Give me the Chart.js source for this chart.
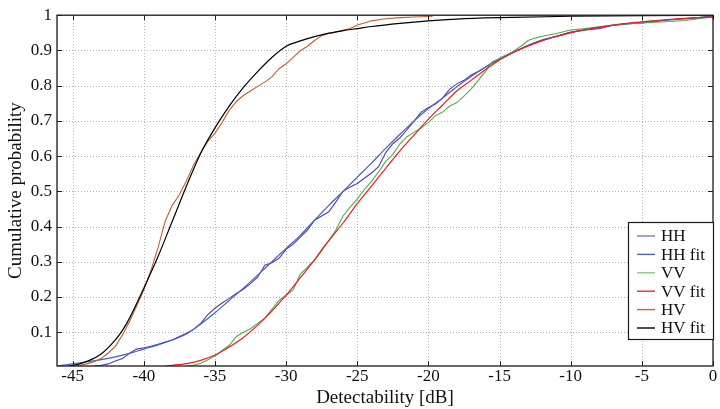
<!DOCTYPE html>
<html>
<head>
<meta charset="utf-8">
<script src="https://cdn.jsdelivr.net/npm/chart.js@4.4.1/dist/chart.umd.min.js"></script>
<style>
html,body{margin:0;padding:0;background:#fff;}
#wrap{width:720px;height:409px;}
</style>
</head>
<body>
<div id="wrap"><canvas id="c" width="720" height="409"></canvas></div>
<script>
// ---- Data ----
const xTicks = [-45, -40, -35, -30, -25, -20, -15, -10, -5, 0];
const yTicks = [0.1, 0.2, 0.3, 0.4, 0.5, 0.6, 0.7, 0.8, 0.9, 1];

const seriesNames = ['HH', 'HH fit', 'VV', 'VV fit', 'HV', 'HV fit'];

// HH empirical
const hhX = [-43.5,-43,-42.5,-42,-41.5,-41,-40.5,-40,-39.5,-39,-38.5,-38,-37.5,-37,-36.5,-36,-35.5,-35,-34.5,-34,-33.5,-33,-32.5,-32,-31.5,-31,-30.5,-30,-29.5,-29,-28.5,-28,-27.5,-27,-26.5,-26,-25.5,-25,-24.5,-24,-23.5,-23,-22.5,-22,-21.5,-21,-20.5,-20,-19.5,-19,-18.5,-18,-17.5,-17,-16.5,-16,-15.5,-15,-14,-13,-12,-11,-10,-9,-8,-7,-6,-5,-4,-3,-2,-1,0];
const hhY = [0.004,0.006,0.01,0.018,0.025,0.04,0.052,0.056,0.06,0.066,0.072,0.078,0.088,0.097,0.108,0.125,0.15,0.168,0.183,0.196,0.21,0.222,0.238,0.256,0.29,0.297,0.31,0.335,0.35,0.37,0.39,0.418,0.43,0.442,0.47,0.5,0.512,0.522,0.537,0.552,0.57,0.61,0.635,0.652,0.675,0.7,0.725,0.738,0.748,0.765,0.79,0.805,0.815,0.83,0.84,0.852,0.866,0.875,0.895,0.915,0.93,0.94,0.952,0.958,0.962,0.972,0.975,0.978,0.982,0.988,0.99,0.993,0.998];

// HH fit
const hhFitX = [-46.1,-45,-44,-43,-42,-41,-40,-39,-38,-37,-36,-35,-34,-33,-32,-31,-30,-29,-28,-27,-26,-25,-24,-23,-22,-21,-20,-19,-18,-17,-16,-15,-14,-13,-12,-11,-10,-9,-8,-7,-6,-5,-4,-3,-2,-1,0];
const hhFitY = [0.004,0.01,0.016,0.022,0.03,0.04,0.052,0.064,0.078,0.095,0.123,0.155,0.19,0.225,0.262,0.3,0.338,0.375,0.418,0.46,0.5,0.54,0.58,0.622,0.662,0.7,0.735,0.765,0.797,0.826,0.852,0.875,0.896,0.913,0.928,0.94,0.95,0.958,0.965,0.971,0.976,0.98,0.984,0.987,0.99,0.993,0.995];

// VV empirical
const vvX = [-37,-36.5,-36,-35.5,-35,-34.5,-34,-33.5,-33,-32.5,-32,-31.5,-31,-30.5,-30,-29.5,-29,-28.5,-28,-27.5,-27,-26.5,-26,-25.5,-25,-24.5,-24,-23.5,-23,-22.5,-22,-21.5,-21,-20.5,-20,-19.5,-19,-18.5,-18,-17.5,-17,-16.5,-16,-15.5,-15,-14.5,-14,-13.5,-13,-12.5,-12,-11,-10,-9,-8,-7,-6,-5,-4,-3,-2,-1,0];
const vvY = [0.004,0.006,0.012,0.022,0.032,0.048,0.062,0.088,0.1,0.11,0.125,0.14,0.165,0.19,0.205,0.22,0.265,0.285,0.305,0.335,0.36,0.39,0.43,0.455,0.478,0.505,0.528,0.555,0.585,0.605,0.635,0.655,0.668,0.68,0.695,0.715,0.725,0.742,0.752,0.77,0.79,0.815,0.84,0.868,0.878,0.888,0.898,0.912,0.928,0.935,0.94,0.948,0.958,0.962,0.967,0.972,0.976,0.978,0.98,0.982,0.985,0.99,0.995];

// VV fit
const vvFitX = [-38.5,-38,-37,-36,-35,-34,-33,-32,-31,-30,-29,-28,-27,-26,-25,-24,-23,-22,-21,-20,-19,-18,-17,-16,-15,-14,-13,-12,-11,-10,-9,-8,-7,-6,-5,-4,-3,-2,-1,0];
const vvFitY = [0.004,0.006,0.011,0.02,0.035,0.058,0.085,0.12,0.16,0.205,0.255,0.305,0.36,0.41,0.465,0.515,0.565,0.615,0.66,0.705,0.745,0.785,0.815,0.845,0.873,0.895,0.913,0.928,0.94,0.951,0.959,0.966,0.972,0.977,0.981,0.985,0.988,0.991,0.993,0.995];

// HV empirical
const hvX = [-45,-44.5,-44,-43.5,-43,-42.5,-42,-41.5,-41,-40.5,-40,-39.5,-39,-38.5,-38,-37.5,-37,-36.5,-36,-35.5,-35,-34.5,-34,-33.5,-33,-32.5,-32,-31.5,-31,-30.5,-30,-29.5,-29,-28.5,-28,-27.5,-27,-26.5,-26,-25.5,-25,-24.5,-24,-23,-22,-21,-19.7];
const hvY = [0.004,0.006,0.01,0.016,0.025,0.041,0.06,0.092,0.13,0.175,0.22,0.275,0.34,0.415,0.46,0.49,0.53,0.575,0.61,0.642,0.665,0.695,0.73,0.755,0.772,0.785,0.798,0.81,0.825,0.848,0.862,0.88,0.899,0.912,0.928,0.942,0.948,0.952,0.957,0.962,0.972,0.978,0.984,0.99,0.993,0.995,0.997];

// HV fit
const hvFitX = [-45.3,-45,-44.5,-44,-43,-42,-41.5,-41,-40,-39,-38,-37,-36,-35,-34,-33,-32,-31,-30,-29,-28,-27,-26,-25,-24,-22,-20,-18,-15,-10,-5,0];
const hvFitY = [0.004,0.006,0.01,0.017,0.038,0.078,0.105,0.14,0.225,0.315,0.415,0.515,0.608,0.68,0.742,0.795,0.84,0.88,0.912,0.927,0.939,0.949,0.956,0.962,0.968,0.977,0.984,0.989,0.993,0.997,0.999,1.0];

const colors = ['#5b3aa8', '#3f63c4', '#4fae45', '#ec1c24', '#c1602e', '#000000'];
const legendColors = ['#8a6fcf', '#4a66b0', '#86c97c', '#ee2a30', '#c8652f', '#000000'];

function pts(xs, ys) { return xs.map((x, i) => ({ x: x, y: ys[i] })); }

const serif = "'Liberation Serif', 'DejaVu Serif', serif";

const gridPlugin = {
  id: 'dotgrid',
  beforeDatasetsDraw(chart) {
    const { ctx, chartArea: a, scales } = chart;
    ctx.save();
    ctx.strokeStyle = '#b4b4b4';
    ctx.lineWidth = 1;
    ctx.setLineDash([1, 2]);
    xTicks.forEach(v => {
      const px = Math.round(scales.x.getPixelForValue(v)) + 0.5;
      if (px > a.right - 1) return;
      ctx.beginPath(); ctx.moveTo(px, a.bottom); ctx.lineTo(px, a.top); ctx.stroke();
    });
    yTicks.forEach(v => {
      const py = Math.round(scales.y.getPixelForValue(v)) + 0.5;
      if (py < a.top + 1) return;
      ctx.beginPath(); ctx.moveTo(a.left, py); ctx.lineTo(a.right, py); ctx.stroke();
    });
    ctx.restore();
  }
};

const framePlugin = {
  id: 'frame',
  afterDatasetsDraw(chart) {
    const { ctx, chartArea: a, scales } = chart;
    ctx.save();
    ctx.strokeStyle = '#222';
    ctx.lineWidth = 1;
    const tl = 5;
    xTicks.forEach(v => {
      const px = Math.round(scales.x.getPixelForValue(v)) + 0.5;
      ctx.beginPath();
      ctx.moveTo(px, a.bottom); ctx.lineTo(px, a.bottom - tl);
      ctx.moveTo(px, a.top); ctx.lineTo(px, a.top + tl);
      ctx.stroke();
    });
    yTicks.forEach(v => {
      const py = Math.round(scales.y.getPixelForValue(v)) + 0.5;
      ctx.beginPath();
      ctx.moveTo(a.left, py); ctx.lineTo(a.left + tl, py);
      ctx.moveTo(a.right, py); ctx.lineTo(a.right - tl, py);
      ctx.stroke();
    });
    ctx.strokeStyle = '#1a1a1a';
    ctx.lineWidth = 1.3;
    ctx.strokeRect(a.left, a.top, a.right - a.left, a.bottom - a.top);

    // legend
    const lx = 628, ly = 222, lw = 85, lh = 117;
    ctx.fillStyle = '#fff';
    ctx.fillRect(lx, ly, lw, lh);
    ctx.lineWidth = 1.2;
    ctx.strokeStyle = '#1a1a1a';
    ctx.strokeRect(lx + 0.5, ly + 0.5, lw, lh);
    ctx.font = '17px ' + serif;
    ctx.textBaseline = 'middle';
    ctx.textAlign = 'left';
    seriesNames.forEach((n, i) => {
      const y = ly + 14 + i * 18.4;
      ctx.strokeStyle = legendColors[i];
      ctx.lineWidth = 1.4;
      ctx.beginPath();
      ctx.moveTo(637, y); ctx.lineTo(655, y);
      ctx.stroke();
      ctx.fillStyle = '#111';
      ctx.fillText(n, 661, y + 1);
    });
    ctx.restore();
  }
};

const mk = (i, xs, ys, isFit, order) => ({
  label: seriesNames[i],
  data: pts(xs, ys),
  borderColor: colors[i],
  backgroundColor: colors[i],
  borderWidth: isFit ? 1.2 : 1.1,
  pointRadius: 0,
  fill: false,
  tension: isFit ? 0.4 : 0,
  cubicInterpolationMode: isFit ? 'monotone' : 'default',
  order: order
});

new Chart(document.getElementById('c').getContext('2d'), {
  type: 'line',
  data: {
    datasets: [
      mk(0, hhX, hhY, false, 5),
      mk(1, hhFitX, hhFitY, true, 4),
      mk(2, vvX, vvY, false, 3),
      mk(3, vvFitX, vvFitY, true, 2),
      mk(4, hvX, hvY, false, 1),
      mk(5, hvFitX, hvFitY, true, 0)
    ]
  },
  options: {
    responsive: false,
    animation: false,
    devicePixelRatio: 1,
    layout: { padding: { top: 11, right: 7, left: 0, bottom: 0 } },
    plugins: { legend: { display: false }, tooltip: { enabled: false } },
    scales: {
      x: {
        type: 'linear', min: -46.1, max: 0,
        afterBuildTicks: s => { s.ticks = xTicks.map(v => ({ value: v })); },
        afterFit: s => { s.height = 43; },
        ticks: { color: '#111', font: { family: serif, size: 17 }, padding: 0, maxRotation: 0, autoSkip: false,
                 callback: v => String(v) },
        grid: { display: true, color: 'rgba(0,0,0,0)', drawTicks: false },
        border: { display: false },
        title: { display: true, text: 'Detectability [dB]', color: '#111', font: { family: serif, size: 19 }, padding: { top: 0, bottom: 0 } }
      },
      y: {
        type: 'linear', min: 0.004, max: 1,
        afterBuildTicks: s => { s.ticks = yTicks.map(v => ({ value: v })); },
        afterFit: s => { s.width = 57; },
        ticks: { color: '#111', font: { family: serif, size: 17 }, padding: 5, autoSkip: false,
                 callback: v => (v === 1 ? '1' : v.toFixed(1)) },
        grid: { display: true, color: 'rgba(0,0,0,0)', drawTicks: false },
        border: { display: false },
        title: { display: true, text: 'Cumulative probability', color: '#111', font: { family: serif, size: 19 }, padding: { top: 5, bottom: 0 } }
      }
    }
  },
  plugins: [gridPlugin, framePlugin]
});
</script>
</body>
</html>
